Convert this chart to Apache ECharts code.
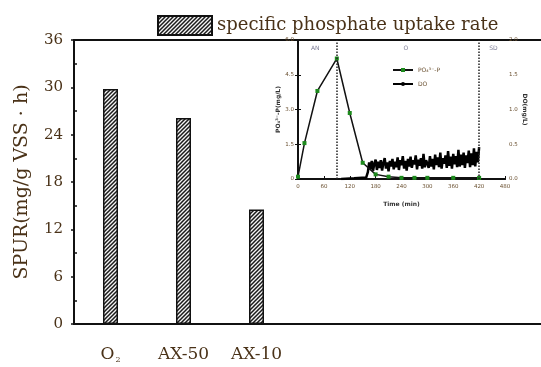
<!DOCTYPE html>
<html>
<head>
<meta charset="utf-8">
<script src="https://cdn.jsdelivr.net/npm/echarts@6/dist/echarts.min.js"></script>
<style>
html, body { margin: 0; padding: 0; background: #fff; }
#main { width: 541px; height: 367px; }
</style>
</head>
<body>
<div id="main"></div>
<script>
// main bars
var groups = ['O2', 'AX-50', 'AX-10'];
var spur = [29.8, 26.1, 14.5];

// inset: phosphate profile (green squares)
var po4Time = [0, 15, 45, 90, 120, 150, 180, 210, 240, 270, 300, 360, 420];
var po4Val = [0.1, 1.55, 3.8, 5.2, 2.85, 0.7, 0.2, 0.1, 0.05, 0.05, 0.05, 0.05, 0.05];

// inset: DO trace, flat part then logged every 3 min from 162 to 420
var doLeadTime = [100, 130, 158];
var doLeadVal = [0, 0.01, 0.02];
var doStart = 162, doStep = 3;
var doVal = [
    0.10, 0.24, 0.14, 0.26, 0.12, 0.22, 0.28, 0.13, 0.25, 0.16,
    0.27, 0.12, 0.23, 0.30, 0.15, 0.24, 0.11, 0.26, 0.18, 0.29,
    0.14, 0.25, 0.17, 0.31, 0.13, 0.27, 0.20, 0.33, 0.15, 0.26,
    0.12, 0.29, 0.18, 0.32, 0.16, 0.27, 0.21, 0.34, 0.14, 0.28,
    0.19, 0.30, 0.15, 0.36, 0.17, 0.27, 0.22,
    0.16, 0.33, 0.18, 0.29, 0.14, 0.35, 0.20, 0.31, 0.17, 0.38,
    0.15, 0.30, 0.22, 0.34, 0.16, 0.40, 0.19, 0.32, 0.15, 0.36,
    0.21, 0.33, 0.17, 0.42, 0.18, 0.35, 0.20, 0.38, 0.16, 0.34,
    0.23, 0.41, 0.17, 0.37, 0.20, 0.44, 0.18, 0.39, 0.24, 0.46
];

// phase boundaries and labels
var phaseLines = [90, 420];
var phaseNames = ['AN', 'O', 'SD'];
var phaseTime = [40, 250, 453];

var serif = 'DejaVu Serif';
var txt = '#4a3218';
var small = '#6a5030';

function hatch() {
    var c = document.createElement('canvas');
    c.width = 4; c.height = 4;
    var g = c.getContext('2d');
    g.fillStyle = '#f4f4f4';
    g.fillRect(0, 0, 4, 4);
    g.strokeStyle = '#1a1a1a';
    g.lineWidth = 1.5;
    g.beginPath();
    g.moveTo(0, 4); g.lineTo(4, 0);
    g.moveTo(-1, 1); g.lineTo(1, -1);
    g.moveTo(3, 5); g.lineTo(5, 3);
    g.stroke();
    return c;
}

var po4Data = po4Time.map(function (t, i) { return [t, po4Val[i]]; });
var doData = doLeadTime.map(function (t, i) { return [t, doLeadVal[i]]; });
doVal.forEach(function (v, i) { doData.push([doStart + doStep * i, v]); });
var phaseData = phaseNames.map(function (n, i) { return { name: n, value: [phaseTime[i], 5.65] }; });

var chart = echarts.init(document.getElementById('main'));
chart.setOption({
    animation: false,
    legend: [{
        data: [{ name: 'specific phosphate uptake rate', icon: 'rect' }],
        left: 152, top: 10,
        itemWidth: 54, itemHeight: 19,
        textStyle: { fontFamily: serif, fontSize: 18, color: txt }
    }, {
        data: ['PO₄³⁻-P', 'DO'],
        orient: 'vertical',
        left: 387, top: 62,
        itemWidth: 20, itemHeight: 5, itemGap: 8,
        textStyle: { fontFamily: 'DejaVu Sans', fontSize: 6, color: small }
    }],
    grid: [
        { left: 74, top: 40, width: 219, bottom: 43 },
        { left: 74, top: 40, right: 0, bottom: 43 },
        { left: 298, top: 40, right: 36, bottom: 188 }
    ],
    xAxis: [{
        type: 'category', gridIndex: 0, data: groups,
        axisLine: { lineStyle: { color: '#111', width: 2 } },
        axisTick: { show: false },
        axisLabel: {
            interval: 0, margin: 22, fontFamily: serif, fontSize: 17, color: txt,
            formatter: function (v) { return v === 'O2' ? '{a|O}{s|2}' : v; },
            rich: {
                a: { fontFamily: serif, fontSize: 17, color: txt },
                s: { fontFamily: serif, fontSize: 8, color: txt, padding: [10, 0, 0, 1] }
            }
        }
    }, {
        type: 'value', gridIndex: 1, min: 0, max: 1,
        axisLine: { show: true, lineStyle: { color: '#111', width: 2 } },
        axisTick: { show: false }, axisLabel: { show: false }, splitLine: { show: false }
    }, {
        type: 'value', gridIndex: 1, position: 'top', min: 0, max: 1,
        axisLine: { show: true, lineStyle: { color: '#111', width: 2 } },
        axisTick: { show: false }, axisLabel: { show: false }, splitLine: { show: false }
    }, {
        type: 'value', gridIndex: 2, min: 0, max: 480, interval: 60,
        name: 'Time (min)', nameLocation: 'middle', nameGap: 22,
        nameTextStyle: { fontFamily: 'DejaVu Sans', fontSize: 6, fontWeight: 'bold', color: '#333' },
        axisLine: { lineStyle: { color: '#111', width: 2 } },
        axisTick: { inside: true, length: 3, lineStyle: { color: '#111' } },
        axisLabel: { margin: 5, fontFamily: 'DejaVu Sans', fontSize: 5.5, color: small },
        splitLine: { show: false }
    }, {
        type: 'value', gridIndex: 2, position: 'top', min: 0, max: 480,
        axisLine: { show: true, lineStyle: { color: '#111', width: 2 } },
        axisTick: { show: false }, axisLabel: { show: false }, splitLine: { show: false }
    }],
    yAxis: [{
        type: 'value', gridIndex: 0, min: 0, max: 36, interval: 6,
        name: 'SPUR(mg/g VSS · h)', nameLocation: 'middle', nameGap: 42,
        nameTextStyle: { fontFamily: serif, fontSize: 19, color: txt },
        axisLine: { show: true, lineStyle: { color: '#111', width: 2 } },
        axisTick: { inside: true, length: 6, lineStyle: { color: '#111', width: 1.5 } },
        minorTick: { show: true, splitNumber: 2, length: 3, lineStyle: { color: '#111', width: 1.5 } },
        axisLabel: { margin: 11, fontFamily: serif, fontSize: 15, color: txt },
        splitLine: { show: false }
    }, {
        type: 'value', gridIndex: 1, min: 0, max: 36, interval: 6,
        axisLine: { show: false },
        axisTick: { show: true, length: 3, lineStyle: { color: '#111', width: 1.5 } },
        axisLabel: { show: false }, splitLine: { show: false }
    }, {
        type: 'value', gridIndex: 2, min: 0, max: 6, interval: 1.5,
        name: 'PO₄³⁻-P(mg/L)', nameLocation: 'middle', nameGap: 14,
        nameTextStyle: { fontFamily: 'DejaVu Sans', fontSize: 6, fontWeight: 'bold', color: '#333' },
        axisLine: { show: true, lineStyle: { color: '#111', width: 2 } },
        axisTick: { inside: true, length: 3, lineStyle: { color: '#111' } },
        axisLabel: {
            margin: 4, fontFamily: 'DejaVu Sans', fontSize: 5.5, color: small,
            formatter: function (v) { return v === 0 ? '0' : v.toFixed(1); }
        },
        splitLine: { show: false }
    }, {
        type: 'value', gridIndex: 2, position: 'right', min: 0, max: 2, interval: 0.5,
        name: 'DO(mg/L)', nameLocation: 'middle', nameGap: 16, nameRotate: -90,
        nameTextStyle: { fontFamily: 'DejaVu Sans', fontSize: 6, fontWeight: 'bold', color: '#333' },
        axisLine: { show: true, lineStyle: { color: '#111', width: 2 } },
        axisTick: { inside: true, length: 3, lineStyle: { color: '#111' } },
        axisLabel: {
            margin: 4, fontFamily: 'DejaVu Sans', fontSize: 5.5, color: small,
            formatter: function (v) { return v.toFixed(1); }
        },
        splitLine: { show: false }
    }],
    series: [{
        name: 'specific phosphate uptake rate',
        type: 'bar', xAxisIndex: 0, yAxisIndex: 0,
        barWidth: 15,
        data: spur,
        itemStyle: {
            color: { image: hatch(), repeat: 'repeat' },
            borderColor: '#111', borderWidth: 1.5
        }
    }, {
        name: 'PO₄³⁻-P',
        type: 'line', xAxisIndex: 3, yAxisIndex: 2,
        data: po4Data,
        symbol: 'rect', symbolSize: 4,
        itemStyle: { color: '#1d8a1d' },
        lineStyle: { color: '#111', width: 1.5 },
        z: 3,
        markLine: {
            silent: true, symbol: 'none',
            label: { show: false },
            lineStyle: { color: '#222', type: 'dotted', width: 1.5 },
            data: phaseLines.map(function (t) { return { xAxis: t }; })
        }
    }, {
        name: 'DO',
        type: 'line', xAxisIndex: 3, yAxisIndex: 3,
        data: doData,
        symbol: 'none',
        lineStyle: { color: '#000', width: 2.5 },
        itemStyle: { color: '#000' },
        z: 2
    }, {
        type: 'scatter', xAxisIndex: 3, yAxisIndex: 2,
        data: phaseData,
        symbolSize: 0,
        label: {
            show: true, position: 'inside', formatter: '{b}',
            fontFamily: 'DejaVu Sans', fontSize: 6, color: '#5a5a7a'
        }
    }]
});
</script>
</body>
</html>
